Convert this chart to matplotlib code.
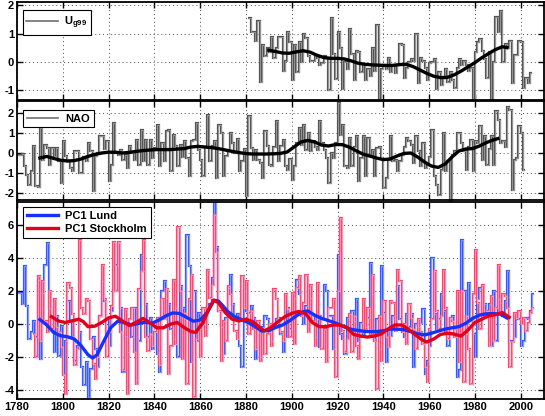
import numpy as np
import matplotlib
matplotlib.use('Agg')
import matplotlib.pyplot as plt
from matplotlib.lines import Line2D

plt.rcParams['font.family'] = ['Liberation Sans', 'DejaVu Sans']
plt.rcParams['font.weight'] = 'bold'
plt.rcParams['font.size'] = 8
plt.rcParams['axes.unicode_minus'] = False
plt.rcParams['mathtext.fontset'] = 'custom'
plt.rcParams['mathtext.rm'] = 'Liberation Sans:bold'
plt.rcParams['mathtext.bf'] = 'Liberation Sans:bold'

# --- Ug99, yearly values from 1881
ug_start = 1881
ug99 = [1.55, 1.05, 1.05, 0.75, 1.45, -0.7, 0.6, 0.2, 0.5, 0.35, 0.9, 0.15, 0.5, 0.9,
        0.9, -0.3, 0.05, 1.05, 0.7, -0.65, 0.6, -0.35, 0.7, 0.0, 1.0, 0.85, 0.2, 0.05, 0.05,
        0.25, 0.15, -0.1, -0.05, 0.2, 0.15, -1.0, 1.55, 0.3, -0.6, 1.05, 0.5, -0.95, 0.0, -0.25,
        1.15, 0.3, -0.65, 0.4, 0.35, -0.35, -0.1, -0.65, -0.25, -0.5, 0.5, -0.3, 1.3, -1.3,
        -0.25, -0.1, -0.25, 0.15, -0.35, -0.1, -0.4, -0.1, 0.65, 0.6, -0.55,
        -0.2, 0.0, 0.1, 0.05, 1.0, -0.75, 0.15, 0.05, -0.2, -0.65,
        -0.05, 0.0, 0.1, -0.95, -0.35, -0.8, -0.55, -0.25, -0.7, -0.35,
        -0.65, -0.9, -0.2, 0.1, -0.1, 0.05, -0.1, -0.3, -0.2, -1.3,
        0.35, 0.7, 0.8, 0.4, 0.1, -0.55, 0.35, -1.35, 0.0, 1.6,
        1.05, 1.8, 0.0, 0.65, 0.5, 0.75, -0.75, 0.25, 0.25, 0.75,
        0.7, -0.9, -0.55, -0.75, -0.4]
ug_smooth_yr = [1890, 1893, 1896, 1899, 1902, 1905, 1908, 1911, 1914, 1917, 1920, 1923,
                1926, 1929, 1932, 1935, 1938, 1941, 1944, 1947, 1950, 1953, 1956, 1959,
                1962, 1965, 1968, 1971, 1974, 1977, 1980, 1983, 1986, 1989, 1992, 1994]
ug_smooth = [0.42, 0.37, 0.32, 0.31, 0.36, 0.4, 0.35, 0.24, 0.16, 0.13, 0.13, 0.11,
             0.04, -0.04, -0.08, -0.1, -0.11, -0.12, -0.12, -0.09, -0.08, -0.16, -0.28, -0.4,
             -0.5, -0.55, -0.54, -0.45, -0.32, -0.17, -0.02, 0.15, 0.3, 0.44, 0.54, 0.51]

# --- NAO, yearly values from 1780
nao_start = 1780
nao = [-0.1, -0.1, -0.05, -0.65, -1.1, -1.6, -0.9, 0.35, -1.65, -1.7,
       1.25, -0.35, 0.4, 0.25, -0.6, 0.25, -0.15, 0.25, -0.4, -1.5,
       0.6, -0.15, -0.4, -0.75, -0.9, 0.1, 0.1, -1.0, -1.0, -0.2,
       -0.4, 0.5, 0.1, -1.9, -0.15, 0.0, 0.85, 0.85, 0.2, 0.6,
       -1.4, -0.6, 1.5, 0.0, -0.1, 0.15, -0.35, -0.1, -0.75, 0.35,
       0.0, -0.35, 0.65, -0.6, 1.15, -0.4, 0.65, -0.6, 0.65, -0.25,
       0.25, 1.4, -0.65, 0.5, -0.4, 1.1, 1.15, -0.9, 0.9, 0.35,
       -0.65, 0.4, -0.2,
       0.6, -0.25, -1.15, 0.6, 0.65, 1.5, 0.15, -0.35, -1.15, 0.3,
       1.9, -0.4, 0.35, 0.6, -1.25, 1.4, 1.0, -1.15, -0.15, 0.15,
       1.0, 0.5, 0.0, 0.7, -0.9, -0.4, 0.2, -2.15, 1.85, 0.25,
       -0.35, 0.15, -0.35, -0.5, -1.25, 1.1, 0.35, -0.6, -0.65, 0.3,
       1.6, -0.4, 0.35, 0.65, -0.65, -0.85, -0.3, -1.35, -0.65, 0.5,
       1.25, 0.4, 1.4, 0.15, 1.0, 0.1, 0.6, 0.3, 0.15, 1.6,
       0.5, 0.15, -0.25, -1.5, 0.0, -0.25, 0.5, 2.5, 0.9, 1.4,
       -0.65, -0.75, 0.75, -0.65, 0.3,
       0.85, -1.4, -0.25, 0.85, -1.15, 0.75, -0.1, 0.15, -1.15, 0.25,
       0.3, -0.3, -1.75, -1.25, -0.35, 0.85, -0.4, -0.35, -0.9, -0.4,
       -0.1, 0.3, 0.75, 0.6, 0.4, -0.5, 0.85, 0.1, -0.65, 0.5,
       -0.75, -0.6, -0.2, 1.15, -1.15, -1.6, -2.1, -0.85, 1.0, -0.9,
       -0.4, -2.45, -0.1, 0.1, 1.0, 1.0, 0.5, 0.1, -0.85, 0.3,
       0.65, -0.9, 0.6, 0.5, 1.35, -0.35, 0.85, -0.6, 0.2, 0.85,
       -0.6, 2.1, 1.65, 0.5, 0.6, 0.3, 2.3, 2.15, -1.85, -0.35,
       -0.25, 1.35, 1.0, -0.85]
nao_smooth_yr = [1790, 1793, 1796, 1799, 1802, 1805, 1808, 1811, 1814, 1817, 1820, 1823,
                 1826, 1829, 1832, 1835, 1838, 1841, 1844, 1847, 1850, 1853, 1856, 1859,
                 1862, 1865, 1868, 1871, 1874, 1877, 1880, 1883, 1886, 1889, 1892, 1895,
                 1898, 1901, 1904, 1907, 1910, 1913, 1916, 1919, 1922, 1925, 1928, 1931,
                 1934, 1937, 1940, 1943, 1946, 1949, 1952, 1955, 1958, 1961, 1964, 1967,
                 1970, 1973, 1976, 1979, 1982, 1985, 1988, 1990]
nao_smooth = [-0.25, -0.17, -0.27, -0.36, -0.4, -0.38, -0.3, -0.17, -0.07, 0.0, 0.04, 0.04,
              0.0, 0.03, 0.08, 0.12, 0.15, 0.17, 0.17, 0.17, 0.2, 0.22, 0.3, 0.33,
              0.3, 0.27, 0.22, 0.15, 0.08, 0.02, -0.03, -0.05, -0.05, -0.05, -0.04, -0.02,
              0.05, 0.3, 0.55, 0.63, 0.55, 0.4, 0.35, 0.42, 0.42, 0.3, 0.12, -0.05,
              -0.15, -0.25, -0.33, -0.3, -0.15, -0.02, 0.0, -0.2, -0.45, -0.65, -0.72, -0.55,
              -0.2, 0.1, 0.2, 0.22, 0.35, 0.52, 0.65, 0.72]

# --- PC1 Lund, yearly values from 1780
lund_start = 1780
lund = [1.9,
        1.9, 1.2, 3.5, 1.1, -0.9, -0.5, 0.2, -0.8, 2.7, -2.1,
        1.9, 3.6, 4.9, 1.0, -0.3, -1.7, 0.5, -1.9, -0.1, -3.0,
        -1.0, 1.4, 0.2, -0.7, -2.2, -1.3, -0.5, -2.6, -3.7, -2.3,
        -4.4, -2.7, -0.8, -1.5, -2.6, 0.5, 2.6, 1.4, 0.3, -1.3,
        0.8, 2.0, 3.6, 4.9, 1.0, -2.9, -0.7, -1.7, 0.0, -0.8,
        1.0, -3.4, -1.0, 4.2, 3.2, 1.2, -0.8, 0.4, -1.5, -0.5,
        -1.8, -2.9, 2.0, 2.6, 1.6, 1.2, -0.3, -0.9, 1.0, -2.0,
        2.3, 1.0, 0.3, 5.4, 3.5, -2.3, 2.0, -1.0, 0.7, -0.3,
        0.0, -0.3, 1.1, 1.2, 2.8, 7.4, 4.7, 0.8, -0.2, -1.8,
        0.4, 2.2, 3.0, 1.2, 0.3, 0.6, -1.3, -2.6, 2.0, 0.8,
        0.7, 1.1, 0.4, -2.1, -0.1, -2.0, -0.2, 0.5, 0.3, -0.5,
        -1.0, -0.2, 0.3,
        0.4, -0.6, -1.7, -0.8, 1.0, -0.3, 0.6, 1.6, 2.7, 1.8,
        0.8, 0.0, 1.1, 2.2, 1.6, 0.5, -0.8, 0.3, -1.4, 0.3,
        2.4, 2.0, 0.5, 0.5, -1.5, 0.1, 4.2, -0.6, -0.9, -1.8,
        0.4, -0.5, 0.8, 0.2, 1.5, -1.0, 0.1, -0.7, -0.2, 0.4,
        3.7, 1.8, -0.9, 0.3, -1.5, 3.5, 0.7, -2.3, -0.4, -0.7,
        0.5, -0.3, 2.3, 0.3, -0.2, -0.8, 0.6, -0.2, 0.6, -2.6,
        0.0, -0.2, 0.1, 0.9, -3.0, -2.2, -1.3, 4.0, 0.6, -0.3,
        0.3, 1.8, 0.8, -0.5, -1.3, 0.3, 0.5, -0.3, -3.2, -2.8,
        5.1, 2.0, -0.6, 2.5, 0.2, -0.6, -2.0, 1.5, 2.2, 0.5,
        1.2, 0.5, 1.2, -1.3, 2.0, -1.0, 1.5, 1.3, 0.5, 1.4,
        3.2, -1.0, -1.0, -0.8, 0.4, 0.3, -1.3, -1.0, 0.4, 0.3,
        0.8, 1.8]
lund_smooth_yr = [1790, 1793, 1796, 1799, 1802, 1805, 1808, 1811, 1813, 1815, 1818, 1821,
                  1824, 1827, 1830, 1833, 1836, 1839, 1842, 1845, 1848, 1851, 1854, 1857,
                  1860, 1863, 1866, 1868, 1870, 1872, 1875, 1878, 1881, 1884, 1887, 1890,
                  1893, 1896, 1899, 1902, 1905, 1907, 1910, 1913, 1916, 1919, 1922, 1925,
                  1928, 1931, 1934, 1937, 1940, 1943, 1946, 1949, 1952, 1955, 1958, 1961,
                  1964, 1967, 1970, 1973, 1976, 1979, 1982, 1985, 1988, 1991, 1994]
lund_smooth = [0.28, -0.05, -0.5, -0.7, -0.76, -0.9, -1.3, -1.85, -2.05, -1.85, -1.0, -0.2,
               0.18, 0.1, -0.05, 0.05, 0.12, 0.05, 0.25, 0.5, 0.68, 0.65, 0.42, 0.18,
               0.25, 0.7, 1.45, 1.4, 1.1, 0.77, 0.46, 0.28, 0.1, -0.15, -0.42, -0.38,
               -0.2, -0.05, 0.2, 0.5, 0.75, 0.8, 0.55, 0.35, 0.22, 0.08, -0.1, -0.28,
               -0.36, -0.42, -0.45, -0.45, -0.4, -0.3, -0.3, -0.33, -0.45, -0.58, -0.65, -0.55,
               -0.42, -0.3, -0.22, -0.15, 0.05, 0.35, 0.55, 0.63, 0.64, 0.62, 0.38]

# --- PC1 Stockholm, yearly values from 1787
sthlm_start = 1787
sthlm = [-0.6, -2.0, 2.9, -1.0, 2.6, 0.2, -0.5, 2.0, -0.3, 1.5,
         -0.2, -0.5, -1.4, -3.1, -4.2, 2.5, 2.2, 0.6, -2.5, -1.5,
         5.1, 1.0, 0.6, 1.5, 1.4, -0.9, -2.4, -3.3, -2.0, 0.5,
         3.6, 1.5, -2.0, -0.5, 1.1, 5.0, 2.0, 5.0, -0.5, -2.8,
         0.9, -4.2, 0.3, 1.0, -1.7, -3.6, 2.1, 3.2, 5.1, -0.8,
         -1.6, -0.6, -1.3, -0.5, 0.4, -2.5, 1.5, 0.3, 2.1, -3.0,
         -1.3, 2.7, -1.2, 5.9, 2.0, -2.1, 0.7, -3.6, 1.5, 3.0,
         -4.4, -0.9, 0.3, -2.0, 1.0, -0.7, 3.3, 1.6, 2.4, 6.6,
         4.4, 0.8, -2.2, 0.2, -1.0, 2.3, 1.8, 0.5, -0.4, -0.9,
         0.4, 2.9, 1.0, 2.6, -0.6, 0.8, -0.3, -1.5, 0.2, -2.2,
         -0.5, -1.8, -0.6, 0.0, -1.3, 2.1, 1.5,
         0.3,
         -0.5, -1.0, 1.8, 0.9, -0.8, 1.9, -1.2, 2.2, 2.9, 0.5,
         1.3, 3.0, -0.5, 2.4, 0.2, -1.3, 2.5, 0.5, -1.5, -0.3,
         -2.3, 1.0, 1.0, 1.5, -3.2, 2.0, 6.4, -0.4, -1.7, -0.9,
         0.6, -1.7, 0.5, -1.3, -2.1, -0.5, 1.5, -0.3, 1.0, -0.7,
         3.0, -1.0, -3.9, 0.5, -2.2, 1.4, -0.8, -1.4, 1.4, 1.3,
         -0.4, 3.3, 2.6, -0.5, 0.0, -1.2, 1.2, 0.4, -0.3, -1.5,
         0.3, -0.5, -1.2, -2.6, -3.5, -0.3, 0.3, 3.2, 0.8, -0.3,
         0.5, 3.3, 1.0, -0.9, 0.4, 0.2, -0.8, 2.0, -2.3, 2.0,
         -3.5, 0.5, -1.5, -3.6, 1.8, 4.5, 1.3, -0.3, 2.4, 0.5,
         0.8, -1.3, 1.7, -1.0, 1.0, 3.6, 0.7, 1.8, 1.7, 1.0,
         -2.6, -1.1, 0.7, 0.4, 0.8, 0.0, 0.4, -0.4, 0.1, 0.7, 1.0]
sthlm_smooth_yr = [1795, 1798, 1801, 1804, 1807, 1809, 1811, 1814, 1817, 1820, 1823, 1826,
                   1829, 1832, 1835, 1838, 1841, 1844, 1847, 1850, 1853, 1856, 1858, 1861,
                   1864, 1866, 1868, 1871, 1874, 1877, 1880, 1883, 1886, 1888, 1891, 1894,
                   1897, 1900, 1903, 1906, 1909, 1912, 1915, 1918, 1921, 1924, 1927, 1930,
                   1933, 1936, 1939, 1942, 1945, 1948, 1951, 1954, 1957, 1959, 1962, 1965,
                   1968, 1971, 1974, 1977, 1980, 1983, 1986, 1989, 1992, 1995]
sthlm_smooth = [0.46, 0.2, 0.1, 0.2, 0.3, 0.15, -0.15, -0.12, 0.1, 0.38, 0.48, 0.2,
                -0.08, 0.1, 0.35, 0.1, -0.22, -0.22, 0.0, 0.1, -0.2, -0.45, -0.5, 0.05,
                0.95, 1.45, 1.3, 0.7, 0.3, 0.2, 0.3, 0.15, -0.2, -0.4, -0.2, 0.15,
                0.45, 0.65, 0.77, 0.65, 0.1, -0.15, -0.15, -0.05, -0.05, -0.2, -0.62, -0.72,
                -0.78, -0.72, -0.6, -0.3, -0.05, -0.05, -0.3, -0.65, -0.95, -1.08, -0.9, -0.62,
                -0.55, -0.6, -0.72, -0.35, 0.1, 0.3, 0.5, 0.58, 0.7, 0.42]


def stairs2(ax, vals, start, dark, light, clip=True):
    # light line with dark edges, like the original's outlined steps
    edges = np.arange(start, start + len(vals) + 1)
    ax.stairs(vals, edges, edgecolor=dark, lw=1.6, baseline=None, clip_on=clip, zorder=2)
    ax.stairs(vals, edges, edgecolor=light, lw=0.6, baseline=None, clip_on=clip, zorder=2.1)


def style(ax, ylim, yticks, xlabels=False):
    ax.set_xlim(1780, 2010.2)
    ax.set_ylim(*ylim)
    ax.set_xticks(range(1780, 2001, 20))
    ax.set_yticks(yticks)
    ax.grid(True, linestyle=(0, (1, 3)), color='0.3', lw=0.7)
    ax.set_axisbelow(True)
    ax.tick_params(direction='in', top=True, right=True, length=4, width=1,
                   labelsize=8, pad=2)
    if not xlabels:
        ax.set_xticklabels([])
    for s in ax.spines.values():
        s.set_linewidth(1.3)


def legend(ax, handles, labels, anchor):
    leg = ax.legend(handles, labels, loc='upper left', bbox_to_anchor=anchor,
                    borderaxespad=0, fancybox=False, edgecolor='k', framealpha=1,
                    handlelength=2.8, handletextpad=0.6, borderpad=0.35,
                    labelspacing=0.25, fontsize=8)
    leg.get_frame().set_linewidth(0.8)


fig = plt.figure(figsize=(5.45, 4.16), dpi=100)
ax1 = fig.add_axes([0.0312, 0.7596, 0.967, 0.2356])
ax2 = fig.add_axes([0.0312, 0.5192, 0.967, 0.238])
ax3 = fig.add_axes([0.0312, 0.0409, 0.967, 0.4736])

gray_dark, gray_light = '#555555', '#a0a0a0'

# top: Ug99
stairs2(ax1, ug99, ug_start, gray_dark, gray_light)
ax1.plot(ug_smooth_yr, ug_smooth, color='k', lw=2.4, zorder=3)
style(ax1, (-1.34, 2.12), [-1, 0, 1, 2])
legend(ax1, [Line2D([], [], color='#6e6e6e', lw=1.2)], [r'U$_{\mathbf{g99}}$'],
       (0.0106, 0.914))

# middle: NAO
stairs2(ax2, nao, nao_start, gray_dark, gray_light, clip=False)
ax2.plot(nao_smooth_yr, nao_smooth, color='k', lw=2.4, zorder=3)
style(ax2, (-2.35, 2.6), [-2, -1, 0, 1, 2])
legend(ax2, [Line2D([], [], color='#6e6e6e', lw=1.2)], ['NAO'], (0.012, 0.912))

# bottom: PC1 Lund / Stockholm
stairs2(ax3, lund, lund_start, '#3a58ff', '#93a5ff')
stairs2(ax3, sthlm, sthlm_start, '#ff4775', '#ffa0b6')
l1, = ax3.plot(lund_smooth_yr, lund_smooth, color='#1432ff', lw=2.4, zorder=3)
l2, = ax3.plot(sthlm_smooth_yr, sthlm_smooth, color='#e0001b', lw=2.4, zorder=3.1)
style(ax3, (-4.53, 7.4), [-4, -2, 0, 2, 4, 6], xlabels=True)
legend(ax3, [l1, l2], ['PC1 Lund', 'PC1 Stockholm'], (0.012, 0.973))

fig.savefig('out.png', dpi=100)
